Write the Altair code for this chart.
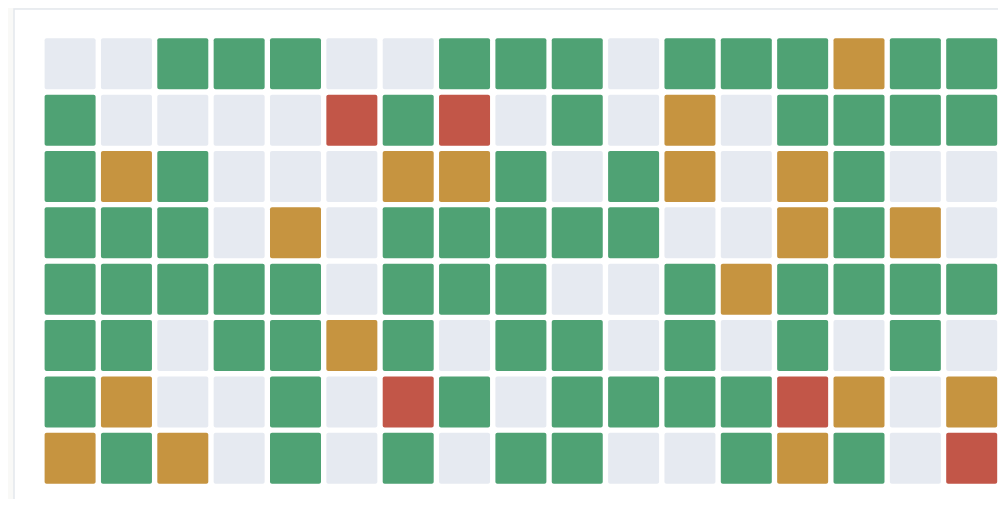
import altair as alt
import pandas as pd

# Status codes per cell: E = empty, G = good, O = warning, R = failure
row_ids = [0, 1, 2, 3, 4, 5, 6, 7]
col_ids = list(range(17))
grid_rows = [
    ["E", "E", "G", "G", "G", "E", "E", "G", "G", "G", "E", "G", "G", "G", "O", "G", "G"],
    ["G", "E", "E", "E", "E", "R", "G", "R", "E", "G", "E", "O", "E", "G", "G", "G", "G"],
    ["G", "O", "G", "E", "E", "E", "O", "O", "G", "E", "G", "O", "E", "O", "G", "E", "E"],
    ["G", "G", "G", "E", "O", "E", "G", "G", "G", "G", "G", "E", "E", "O", "G", "O", "E"],
    ["G", "G", "G", "G", "G", "E", "G", "G", "G", "E", "E", "G", "O", "G", "G", "G", "G"],
    ["G", "G", "E", "G", "G", "O", "G", "E", "G", "G", "E", "G", "E", "G", "E", "G", "E"],
    ["G", "O", "E", "E", "G", "E", "R", "G", "E", "G", "G", "G", "G", "R", "O", "E", "O"],
    ["O", "G", "O", "E", "G", "E", "G", "E", "G", "G", "E", "E", "G", "O", "G", "E", "R"],
]
status_codes = ["E", "G", "O", "R"]
status_colors = ["#e6eaf1", "#4fa274", "#c69440", "#c25648"]

records = []
for r, row in zip(row_ids, grid_rows):
    for c, s in zip(col_ids, row):
        records.append({"row": r, "col": c, "status": s})
df = pd.DataFrame(records)

step = 56.35
gap_frac = 0.095
x0 = 30.6
y0 = 29.3

card = alt.Chart(pd.DataFrame({"k": [0]})).mark_rect(
    fill="white", stroke="#e4e7ed", strokeWidth=1.5
).encode(
    x=alt.value(0), x2=alt.value(1200), y=alt.value(0), y2=alt.value(700)
)

cells = alt.Chart(df).mark_rect(cornerRadius=2).encode(
    x=alt.X("col:O", axis=None,
            scale=alt.Scale(domain=col_ids, paddingInner=gap_frac, paddingOuter=0,
                            range=[x0, x0 + step * (len(col_ids) - gap_frac)])),
    y=alt.Y("row:O", axis=None,
            scale=alt.Scale(domain=row_ids, paddingInner=gap_frac, paddingOuter=0,
                            range=[y0, y0 + step * (len(row_ids) - gap_frac)])),
    color=alt.Color("status:N", legend=None,
                    scale=alt.Scale(domain=status_codes, range=status_colors)),
)

chart = alt.layer(card, cells).properties(
    width=984,
    height=490,
    padding={"left": 6, "top": 1, "right": 0, "bottom": 0},
    autosize="none",
    background="#f9f9f7",
).configure_view(strokeWidth=0)

chart.save("out.html", embed_options={"renderer": "svg", "actions": False})
